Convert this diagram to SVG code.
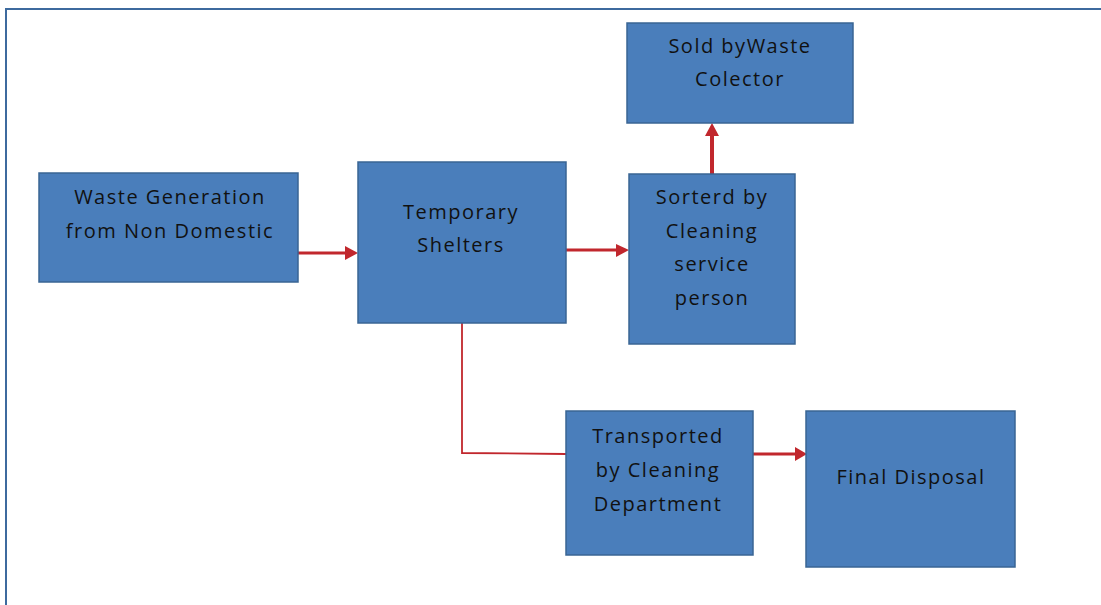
<svg xmlns="http://www.w3.org/2000/svg" width="1101" height="605" viewBox="0 0 1101 605">
<style>
.box{fill:#4a7ebb;stroke:#3a6594;stroke-width:1.5}
.t{font-family:"Open Sans","Liberation Sans",sans-serif;font-size:20px;letter-spacing:1.5px;fill:#111;text-anchor:middle}
.ln{stroke:#c1272d;fill:none}
.hd{fill:#c1272d}
</style>
<rect x="0" y="0" width="1101" height="605" fill="#fff"/>
<g id="frame">
<line x1="5" y1="9" x2="1101" y2="9" stroke="#3d6a9e" stroke-width="2"/>
<line x1="6" y1="8" x2="6" y2="605" stroke="#3d6a9e" stroke-width="2"/>
</g>
<g id="connectors">
<line class="ln" x1="298" y1="253" x2="346" y2="253" stroke-width="3"/>
<polygon class="hd" points="345,246 358,253 345,260"/>
<line class="ln" x1="566" y1="250" x2="618" y2="250" stroke-width="3"/>
<polygon class="hd" points="616,244 629,250 616,257"/>
<line class="ln" x1="712" y1="174" x2="712" y2="135" stroke-width="4"/>
<polygon class="hd" points="705,136 712,123 719,136"/>
<polyline class="ln" points="462,323 462,453 566,454" stroke-width="1.8"/>
<line class="ln" x1="753" y1="454" x2="796" y2="454" stroke-width="3"/>
<polygon class="hd" points="795,447 807,454 795,461"/>
</g>
<g id="n1">
<rect class="box" x="39" y="173" width="259" height="109"/>
<text class="t" x="170" y="204">Waste Generation</text>
<text class="t" x="170" y="238">from Non Domestic</text>
</g>
<g id="n2">
<rect class="box" x="358" y="162" width="208" height="161"/>
<text class="t" x="461" y="219">Temporary</text>
<text class="t" x="461" y="252">Shelters</text>
</g>
<g id="n3">
<rect class="box" x="627" y="23" width="226" height="100"/>
<text class="t" x="740" y="53">Sold byWaste</text>
<text class="t" x="740" y="86">Colector</text>
</g>
<g id="n4">
<rect class="box" x="629" y="174" width="166" height="170"/>
<text class="t" x="712" y="204">Sorterd by</text>
<text class="t" x="712" y="238">Cleaning</text>
<text class="t" x="712" y="271">service</text>
<text class="t" x="712" y="305">person</text>
</g>
<g id="n5">
<rect class="box" x="566" y="411" width="187" height="144"/>
<text class="t" x="658" y="443">Transported</text>
<text class="t" x="658" y="477">by Cleaning</text>
<text class="t" x="658" y="511">Department</text>
</g>
<g id="n6">
<rect class="box" x="806" y="411" width="209" height="156"/>
<text class="t" x="911" y="484">Final Disposal</text>
</g>
</svg>
